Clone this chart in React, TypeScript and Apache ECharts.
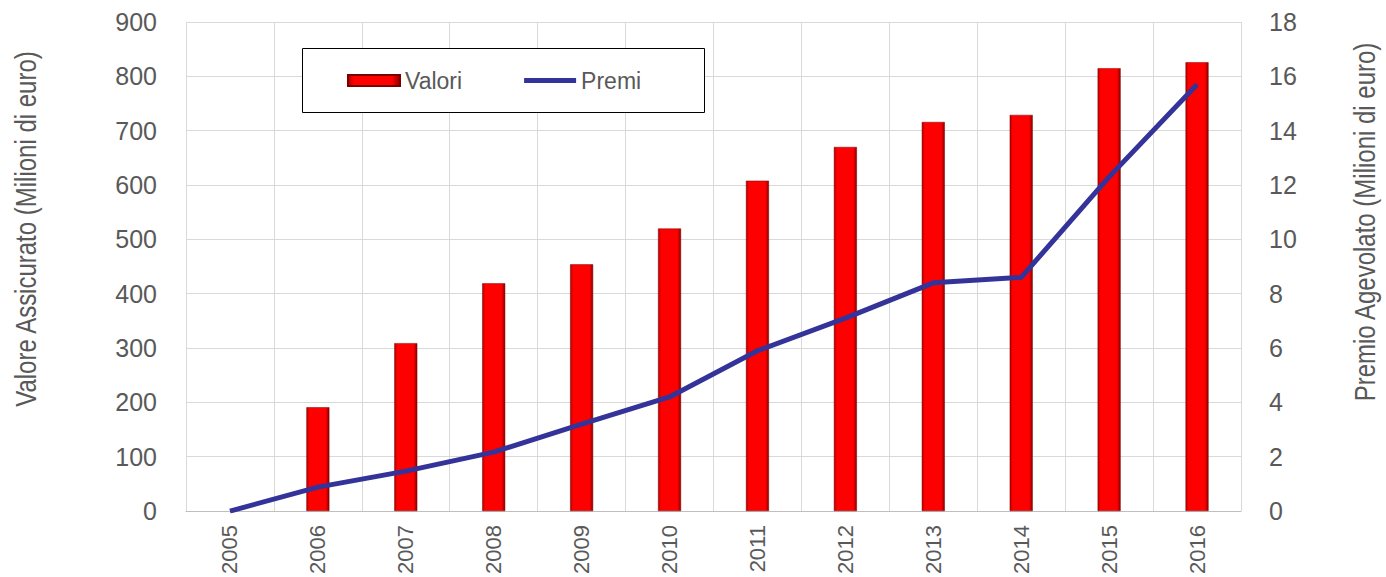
import React, { useEffect, useRef } from "react";
import * as echarts from "echarts";

const years = ["2005", "2006", "2007", "2008", "2009", "2010", "2011", "2012", "2013", "2014", "2015", "2016"];
const valori = [null, 191, 309, 419, 454, 520, 608, 670, 716, 729, 815, 826];
const premi = [0, 0.88, 1.47, 2.17, 3.2, 4.2, 5.9, 7.1, 8.4, 8.6, 12.3, 15.7];
const leftTitle = "Valore Assicurato (Milioni di euro)";
const rightTitle = "Premio Agevolato (Milioni di euro)";

const sans = '"Liberation Sans", Arial, sans-serif';

export default function App() {
  const ref = useRef<HTMLDivElement>(null);
  useEffect(() => {
    document.body.style.margin = "0";
    if (!ref.current) return;
    const chart = echarts.init(ref.current, undefined, { renderer: "svg" });
    const barGrad = new echarts.graphic.LinearGradient(0, 0, 1, 0, [
      { offset: 0, color: "#b00000" },
      { offset: 0.12, color: "#ff0000" },
      { offset: 0.85, color: "#ff0000" },
      { offset: 1, color: "#8a0000" },
    ]);
    chart.setOption({
      animation: false,
      grid: { left: 186, right: 145, top: 22, bottom: 65, containLabel: false },
      legend: {
        left: 347,
        top: 69,
        padding: 0,
        z: 10,
        itemWidth: 52,
        itemHeight: 11,
        itemGap: 62,
        textStyle: { fontFamily: sans, fontSize: 23, color: "#595959" },
        data: [
          { name: "Valori", icon: "rect" },
          { name: "Premi", icon: "path://M0,0 L104,0 L104,10 L0,10 Z" },
        ],
      },
      graphic: [
        {
          type: "rect",
          z: 5,
          shape: { x: 302.5, y: 48.5, width: 402, height: 64 },
          style: { fill: "#ffffff", stroke: "#000000", lineWidth: 1 },
        },
        {
          type: "text",
          x: 26,
          y: 229,
          rotation: Math.PI / 2,
          scaleX: 1,
          scaleY: 1.25,
          style: {
            text: leftTitle,
            fontFamily: sans,
            fontSize: 24,
            fill: "#595959",
            align: "center",
            verticalAlign: "middle",
          },
        },
        {
          type: "text",
          x: 1365,
          y: 222,
          rotation: Math.PI / 2,
          scaleX: 1,
          scaleY: 1.25,
          style: {
            text: rightTitle,
            fontFamily: sans,
            fontSize: 24,
            fill: "#595959",
            align: "center",
            verticalAlign: "middle",
          },
        },
      ],
      xAxis: {
        type: "category",
        data: years,
        boundaryGap: true,
        axisLine: { show: true, lineStyle: { color: "#bfbfbf", width: 1 } },
        axisTick: { show: false },
        splitLine: { show: true, lineStyle: { color: "#d9d9d9", width: 1 } },
        axisLabel: {
          rotate: 90,
          margin: 14,
          fontFamily: sans,
          fontSize: 22,
          color: "#595959",
          interval: 0,
        },
      },
      yAxis: [
        {
          type: "value",
          min: 0,
          max: 900,
          interval: 100,
          axisLine: { show: false },
          axisTick: { show: false },
          splitLine: { show: true, lineStyle: { color: "#d9d9d9", width: 1 } },
          axisLabel: { margin: 29, fontFamily: sans, fontSize: 25, color: "#595959" },
        },
        {
          type: "value",
          min: 0,
          max: 18,
          interval: 2,
          position: "right",
          axisLine: { show: false },
          axisTick: { show: false },
          splitLine: { show: false },
          axisLabel: { margin: 28, fontFamily: sans, fontSize: 25, color: "#595959" },
        },
      ],
      series: [
        {
          name: "Valori",
          type: "bar",
          data: valori,
          barWidth: 23,
          yAxisIndex: 0,
          itemStyle: { color: barGrad, borderColor: "#7a0000", borderWidth: 0.5 },
        },
        {
          name: "Premi",
          type: "line",
          data: premi,
          yAxisIndex: 1,
          symbol: "none",
          z: 3,
          lineStyle: { color: "#333399", width: 5 },
          itemStyle: { color: "#333399" },
        },
      ],
    });
    return () => chart.dispose();
  }, []);
  return <div ref={ref} style={{ width: 1386, height: 577 }} />;
}
